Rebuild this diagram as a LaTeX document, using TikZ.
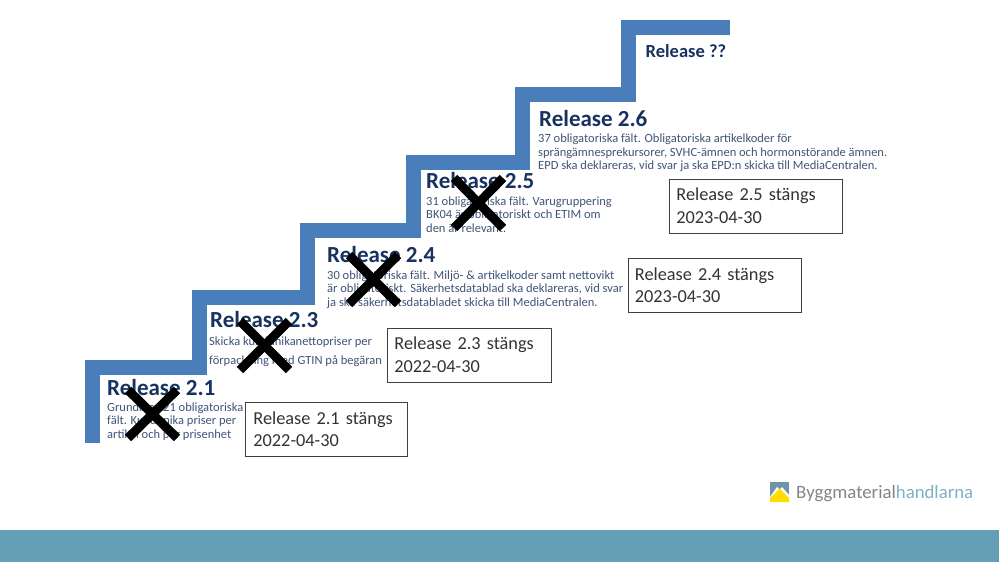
\documentclass[tikz,border=0pt]{standalone}
\usepackage{fontspec}
\setmainfont{Carlito}
\usepackage{xcolor}
\definecolor{stairblue}{HTML}{4A7EBB}
\definecolor{titlenavy}{HTML}{17325F}
\definecolor{bodyblue}{HTML}{3F5478}
\definecolor{barteal}{HTML}{659FB6}
\definecolor{logogrey}{HTML}{7F8589}
\definecolor{logoblue}{HTML}{7FB0C6}
\definecolor{logoyellow}{HTML}{FFDD00}
\tikzset{
  reltitle/.style={anchor=base west,inner sep=0pt,font=\fontsize{23}{23}\selectfont\bfseries,text=titlenavy},
  relbody/.style={anchor=north west,inner sep=0pt,align=left,font=\fontsize{12.5}{13.4}\selectfont,text=bodyblue},
  closebox/.style={draw=black!75,line width=0.8pt,fill=white,anchor=north west,minimum height=54pt,align=left,inner sep=0pt,text=black!80,font=\fontsize{18.3}{22.5}\selectfont},
  crossline/.style={line width=9pt,black}
}
\begin{document}
\begin{tikzpicture}[x=1pt,y=-1pt]
    \useasboundingbox (0,0) rectangle (999,562);

    % Bottom bar
    \fill[barteal] (0,530) rectangle (999,562);

    % Stairs
    \draw[stairblue,line width=15pt,miter limit=10] (92.5,443) -- (92.5,367.5) -- (199,367.5) -- (199,297.5) -- (307,297.5) -- (307,230.5)
        -- (413.5,230.5) -- (413.5,162.5) -- (522.5,162.5) -- (522.5,94.5) -- (628,94.5) -- (628,27) -- (730,27);

    % Release texts
    \node[reltitle] (rel21) at (107,395) {Release 2.1};
    \node[relbody] (body21) at (107,402.5) {Grundkrav 21 obligatoriska\\fält. Kundunika priser per\\artikel och per prisenhet};

    \node[reltitle] (rel23) at (210,327) {Release 2.3};
    \node[relbody,font=\fontsize{12.5}{19}\selectfont] (body23) at (209,336.5) {Skicka kundunikanettopriser per\\förpackning med GTIN på begäran};

    \node[reltitle] (rel24) at (327,262) {Release 2.4};
    \node[relbody] (body24) at (327,270.5) {30 obligatoriska fält. Miljö- \& artikelkoder samt nettovikt\\är obligatoriskt. Säkerhetsdatablad ska deklareras, vid svar\\ja ska säkerhetsdatabladet skicka till MediaCentralen.};

    \node[reltitle] (rel25) at (426,188) {Release 2.5};
    \node[relbody] (body25) at (426,196.5) {31 obligatoriska fält. Varugruppering\\BK04 är obligatoriskt och ETIM om\\den är relevant.};

    \node[reltitle] (rel26) at (539,126) {Release 2.6};
    \node[relbody] (body26) at (538,134) {37 obligatoriska fält. Obligatoriska artikelkoder för\\sprängämnesprekursorer, SVHC-ämnen och hormonstörande ämnen.\\EPD ska deklareras, vid svar ja ska EPD:n skicka till MediaCentralen.};

    \node[reltitle,font=\fontsize{18.5}{18.5}\selectfont\bfseries] (relnext) at (645.5,57) {Release ??};

    % Closing boxes
    \node[closebox,minimum width=162pt,text width=162pt] (close21) at (245,402) {\hspace*{8pt}Release 2.1 stängs\\\hspace*{8pt}2022-04-30};
    \node[closebox,minimum width=164pt,text width=164pt] (close23) at (387,327.5) {\hspace*{7pt}Release 2.3 stängs\\\hspace*{7pt}2022-04-30};
    \node[closebox,minimum width=173pt,text width=173pt] (close24) at (627.5,258) {\hspace*{7pt}Release 2.4 stängs\\\hspace*{7pt}2023-04-30};
    \node[closebox,minimum width=173pt,text width=173pt] (close25) at (669,178.5) {\hspace*{7pt}Release 2.5 stängs\\\hspace*{7pt}2023-04-30};

    % Crosses
    \draw[crossline] (128,390) -- (177,438);
    \draw[crossline] (177,390) -- (128,438);
    \draw[crossline] (240,321) -- (289,370);
    \draw[crossline] (289,321) -- (240,370);
    \draw[crossline] (349,255) -- (398,304);
    \draw[crossline] (398,255) -- (349,304);
    \draw[crossline] (454,178) -- (503,228);
    \draw[crossline] (503,178) -- (454,228);

    % Logo
    \fill[logoblue!85!black] (770,482) rectangle (789,502);
    \fill[white] (770,497) -- (777,487) -- (779.5,489.5) -- (782,487) -- (789,495) -- (789,502) -- (770,502) -- cycle;
    \fill[logoyellow] (770,502) -- (770,498) -- (779.5,488.5) -- (789,498) -- (789,502) -- cycle;
    \node[anchor=base west,inner sep=0pt,font=\fontsize{18.8}{18.8}\selectfont,text=logogrey] (logotext) at (796,498)
        {Byggmaterial\textcolor{logoblue}{handlarna}};

\end{tikzpicture}
\end{document}
